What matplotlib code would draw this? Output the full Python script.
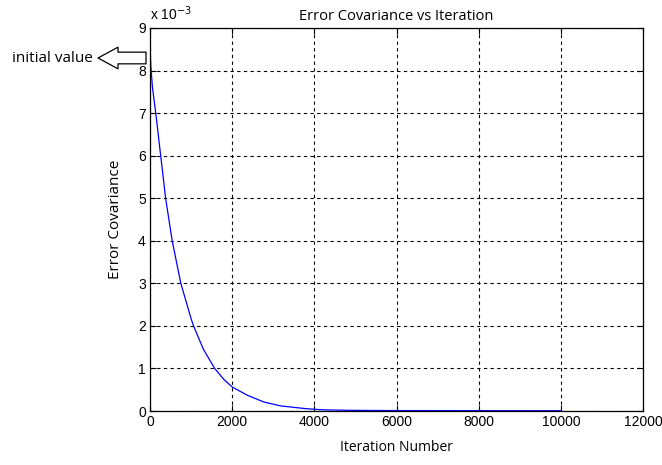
import numpy as np
import matplotlib
matplotlib.use("Agg")
import matplotlib.pyplot as plt

# covariance at sampled iterations (values in units of 1e-3)
iterations = [0, 20, 60, 140, 260, 380, 540, 750, 1000, 1060, 1300, 1575, 1800,
              2000, 2370, 2775, 3180, 3750, 4000, 4300, 5000, 6000, 8000, 10000]
covariance = [8.6, 8.1, 7.6, 7.0, 6.0, 5.0, 4.0, 3.0, 2.17, 2.0, 1.45, 1.0, 0.74,
              0.565, 0.37, 0.21, 0.12, 0.06, 0.04, 0.025, 0.015, 0.01, 0.008, 0.007]

x_ticks = [0, 2000, 4000, 6000, 8000, 10000, 12000]
y_ticks = [0, 1, 2, 3, 4, 5, 6, 7, 8, 9]

plt.rcParams['font.family'] = ['Liberation Sans', 'DejaVu Sans']
label_font = ['Open Sans', 'DejaVu Sans']

fig = plt.figure(figsize=(6.62, 4.65), dpi=100)
ax = fig.add_axes([0.2266, 0.1161, 0.7447, 0.8237])

ax.plot(iterations, np.array(covariance) * 1e-3, color='#0000ff', lw=0.9)

ax.set_xlim(0, 12000)
ax.set_ylim(0, 9e-3)
ax.set_xticks(x_ticks)
ax.set_yticks(np.array(y_ticks) * 1e-3)
ax.set_xticklabels([str(t) for t in x_ticks], fontsize=10)
ax.set_yticklabels([str(t) for t in y_ticks], fontsize=10)
ax.tick_params(direction='in', top=True, right=True, length=4, width=0.8, pad=3)
ax.grid(True, color='black', linestyle=(0, (3, 3)), linewidth=0.8)
for s in ax.spines.values():
    s.set_linewidth(0.9)

ax.set_title('Error Covariance vs Iteration', fontsize=10.5, family=label_font, pad=6)
ax.set_xlabel('Iteration Number', fontsize=10, family=label_font, labelpad=8)
ax.set_ylabel('Error Covariance', fontsize=11, family=label_font, labelpad=11)

# exponent marker above the y axis
ax.text(0.0, 1.012, r'x 10$^{-3}$', transform=ax.transAxes, fontsize=10,
        ha='left', va='bottom')

# outlined arrow pointing at the starting value
ax.annotate('', xy=(98, 407), xycoords='figure pixels',
            xytext=(146, 407), textcoords='figure pixels',
            arrowprops=dict(arrowstyle='simple,head_length=1.2,head_width=1.3,tail_width=0.7',
                            fc='white', ec='black', lw=0.9,
                            shrinkA=0, shrinkB=0, mutation_scale=12))
fig.text(12 / 662, 407 / 465, 'initial value', fontsize=11, family=label_font,
         ha='left', va='center')

fig.savefig('out.png', dpi=100)
